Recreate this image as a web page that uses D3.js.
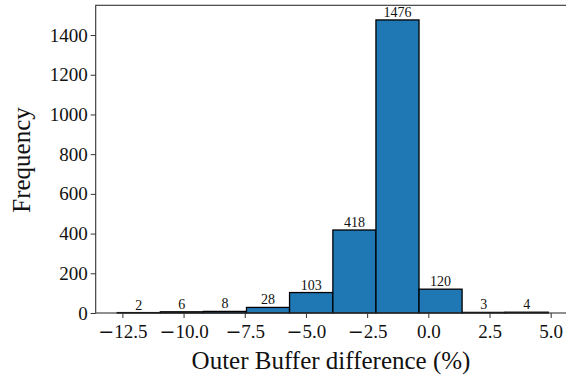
<!DOCTYPE html>
<html>
<head>
<meta charset="utf-8">
<script src="https://cdn.jsdelivr.net/npm/d3@7"></script>
<style>
	body { margin: 0; background: #fff; }
	svg { display: block; font-family: "Liberation Serif", "Times New Roman", serif; }
	.tick text { font-family: "Liberation Serif", "Times New Roman", serif; }
</style>
</head>
<body>
<div id="chart"></div>
<script>

// histogram data
var binEdges = [-12.71, -10.95, -9.19, -7.43, -5.67, -3.90, -2.14, -0.38, 1.38, 3.14, 4.90];
var counts   = [2, 6, 8, 28, 103, 418, 1476, 120, 3, 4];
var xTicks   = [-12.5, -10.0, -7.5, -5.0, -2.5, 0.0, 2.5, 5.0];
var yTicks   = [0, 200, 400, 600, 800, 1000, 1200, 1400];

var width = 566, height = 375;
var serif = "Liberation Serif";

var svg = d3.select("#chart").append("svg")
	.attr("width", width)
	.attr("height", height);

var bins = counts.map(function(c, i) {
	return { x0: binEdges[i], x1: binEdges[i + 1], count: c };
});

var pad = (binEdges[binEdges.length - 1] - binEdges[0]) * 0.05;
var x = d3.scaleLinear()
	.domain([binEdges[0] - pad, binEdges[binEdges.length - 1] + pad])
	.range([95.7, 569.8]);

var y = d3.scaleLinear()
	.domain([0, d3.max(counts) * 1.05])
	.range([313, 5.3]);

// bars
svg.append("g").selectAll("rect")
	.data(bins)
	.enter().append("rect")
	.attr("x", function(d) { return x(d.x0); })
	.attr("y", function(d) { return y(d.count); })
	.attr("width", function(d) { return x(d.x1) - x(d.x0); })
	.attr("height", function(d) { return y(0) - y(d.count); })
	.attr("fill", "#1f77b4")
	.attr("stroke", "#000")
	.attr("stroke-width", 1.3);

// count labels
svg.append("g").selectAll("text")
	.data(bins)
	.enter().append("text")
	.attr("x", function(d) { return x((d.x0 + d.x1) / 2); })
	.attr("y", function(d) { return y(d.count) - 3; })
	.attr("text-anchor", "middle")
	.style("font-family", serif)
	.style("font-size", "14px")
	.attr("fill", "#111")
	.text(function(d) { return d.count; });

// axes
var xAxis = svg.append("g")
	.attr("transform", "translate(0," + y(0) + ")")
	.call(d3.axisBottom(x).tickValues(xTicks).tickFormat(d3.format(".1f")).tickSizeOuter(0).tickSize(5).tickPadding(7));
var yAxis = svg.append("g")
	.attr("transform", "translate(" + x.range()[0] + ",0)")
	.call(d3.axisLeft(y).tickValues(yTicks).tickFormat(d3.format("d")).tickSizeOuter(0).tickSize(5).tickPadding(3));

[xAxis, yAxis].forEach(function(a) {
	a.attr("font-family", serif).attr("font-size", 19);
	a.select(".domain").remove();
	a.selectAll("line").attr("stroke", "#333");
	a.selectAll("text").each(function() {
		var t = d3.select(this), s = t.text();
		t.text(null).attr("fill", "#111");
		// matplotlib draws the minus sign wider than Times does
		if (s.charAt(0) == "\u2212") {
			t.append("tspan").style("font-family", "DejaVu Sans").text("\u2212");
			s = s.slice(1);
		}
		t.append("tspan").text(s);
	});
});

// frame
svg.append("rect")
	.attr("x", x.range()[0])
	.attr("y", y.range()[1])
	.attr("width", x.range()[1] - x.range()[0])
	.attr("height", y.range()[0] - y.range()[1])
	.attr("fill", "none")
	.attr("stroke", "#333")
	.attr("stroke-width", 1.1);

// axis titles
svg.append("text")
	.attr("x", 331)
	.attr("y", 369)
	.attr("text-anchor", "middle")
	.style("font-family", serif)
	.style("font-size", "25px")
	.attr("fill", "#111")
	.text("Outer Buffer difference (%)");

svg.append("text")
	.attr("transform", "translate(30,160) rotate(-90)")
	.attr("text-anchor", "middle")
	.style("font-family", serif)
	.style("font-size", "25px")
	.attr("fill", "#111")
	.text("Frequency");

</script>
</body>
</html>
